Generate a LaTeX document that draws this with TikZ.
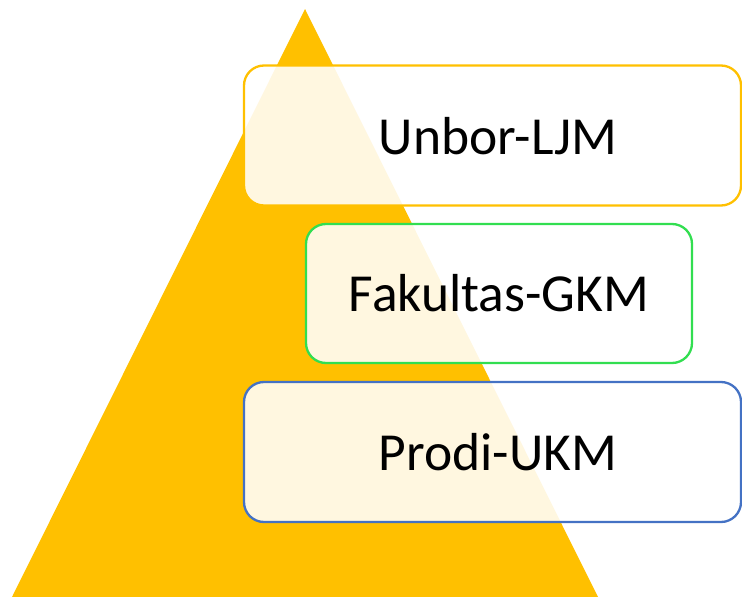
\documentclass[tikz,border=0pt]{standalone}
\usepackage{fontspec}
\setmainfont{Carlito}
\definecolor{tri}{HTML}{FFC000}
\definecolor{bor}{HTML}{FFC000}
\definecolor{grn}{RGB}{50,222,80}
\definecolor{blu}{HTML}{4472C4}
\tikzset{
  lvl/.style={draw, line width=2.3pt, rounded corners=20pt, fill=white, fill opacity=0.88, text opacity=1, inner sep=0pt},
  lbl/.style={font=\fontsize{53.5}{58}\selectfont, text=black, inner sep=0pt}
}
\begin{document}
\begin{tikzpicture}[x=1pt,y=-1pt]
\useasboundingbox (0,0) rectangle (742,597);
\coordinate (apex) at (305,9);
\coordinate (bl) at (12,597);
\coordinate (br) at (598,597);
\fill[tri] (apex) -- (bl) -- (br) -- cycle;
\node[lvl, draw=bor, minimum width=497pt, minimum height=140pt] (b1) at (492.5,135.5) {};
\node[lvl, draw=grn, minimum width=386pt, minimum height=139pt] (b2) at (499,293.5) {};
\node[lvl, draw=blu, minimum width=497pt, minimum height=140pt] (b3) at (492.5,452) {};
\node[lbl] (t1) at (498,136) {Unbor-LJM};
\node[lbl] (t2) at (499,293) {Fakultas-GKM};
\node[lbl] (t3) at (498,452) {Prodi-UKM};
\end{tikzpicture}
\end{document}
